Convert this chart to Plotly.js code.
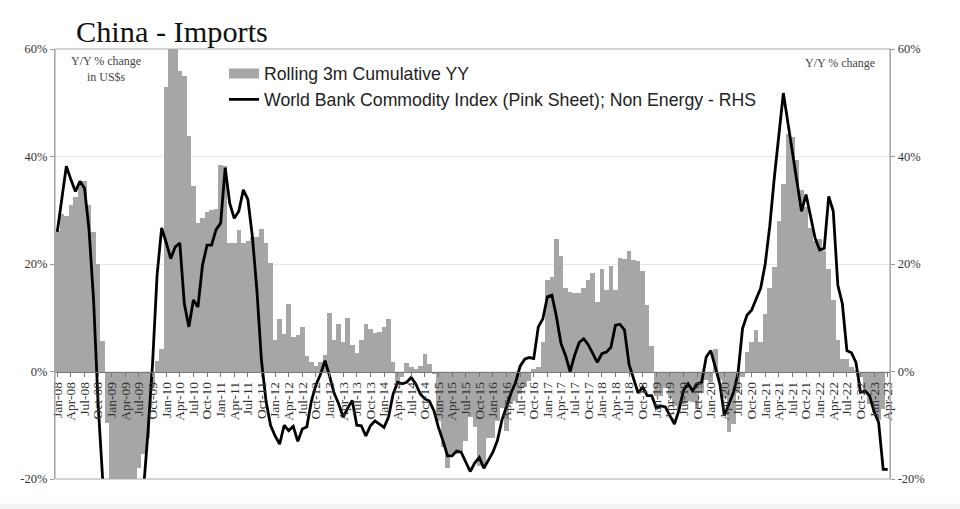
<!DOCTYPE html>
<html><head><meta charset="utf-8">
<script src="https://cdn.plot.ly/plotly-3.0.1.min.js"></script>
<style>html,body{margin:0;padding:0;background:#fff;}#chart{width:960px;height:509px;}</style>
</head><body><div id="chart"></div>
<script>
const startYear = 2008;
const monthNames = ['Jan','Feb','Mar','Apr','May','Jun','Jul','Aug','Sep','Oct','Nov','Dec'];

// Rolling 3m cumulative YY (China imports, %), monthly Jan-08 .. Apr-23
const imports3m = [
  26.2, 29.3, 29, 30.9, 32.5, 35, 35.5, 31, 26, 20, 5.6, -9.5,          // 2008
  -24, -26, -27, -26, -24, -22, -17.9, -15.4, -12.3, -3, 2, 4.2,        // 2009
  53, 63, 64, 56, 55, 43.9, 34.6, 27.7, 28.5, 29.6, 30.1, 30.3,         // 2010
  38.5, 38.2, 24, 23.9, 26.4, 23.9, 24.2, 25, 25.1, 26.6, 23.9, 20.2,   // 2011
  5.9, 9.7, 7, 12.6, 6.5, 6.7, 8.3, 2.8, 1.7, 1.1, 1.7, 3,              // 2012
  10.8, 5.9, 8.9, 5.5, 10, 4.9, 3.4, 5.9, 8.8, 8, 7.2, 7.4,             // 2013
  8.2, 9.7, 1.7, -2, -1, 1.6, 0.8, 0.5, 1.1, 3.3, 1.4, -0.5,            // 2014
  -9.2, -14.1, -17.9, -15.4, -15.4, -14.8, -12.9, -8.5, -10.4, -17.6, -18, -12.3, // 2015
  -12.3, -9.2, -6.7, -11, -6, -5.4, -4.2, -2.9, -1.7, 0.5, 0.8, 5.5,    // 2016
  17, 17.5, 24.6, 21.5, 15.6, 14.8, 14.6, 14.6, 15.5, 17.1, 18.4, 13,   // 2017
  19, 15.1, 19.6, 15.1, 21.1, 21, 22.5, 20.7, 20.5, 18.7, 12.3, 4.7,    // 2018
  -4.5, -4.5, -3, -5, -6.5, -7, -6, -5.5, -5.7, -7, -4, -1.5,           // 2019
  -2, 4.2, -1.5, -5, -11.3, -9.8, -4, -1, 3.6, 5.5, 7.8, 5.5,           // 2020
  10.7, 15.6, 19.4, 28, 34.8, 44.1, 43.6, 39.3, 33.7, 30.6, 26.7, 24.2, // 2021
  24.6, 22.5, 19, 13.3, 5.8, 2.4, 2.3, 0.9, 0.3, -1, -3.5, -6,          // 2022
  -7.5, -9, -7, null                                                     // 2023
];

// World Bank Commodity Index (Pink Sheet), Non Energy, Y/Y % (RHS)
const commodityNonEnergy = [
  26, 32, 38.2, 35.7, 33.5, 35.4, 34.1, 26.4, 13.3, -6, -20, -26,        // 2008
  -29, -31, -31, -30, -28, -26, -24, -22, -11.2, 1.5, 18, 26.7,          // 2009
  24, 21, 23.2, 23.9, 12.6, 8.3, 13.3, 12, 19.8, 23.5, 23.5, 26.4,       // 2010
  27.6, 37.9, 31.3, 28.5, 29.8, 33.8, 32, 25.1, 15, 2, -5.5, -10,        // 2011
  -12, -13.5, -10, -11, -10.2, -13, -10.7, -10.3, -5.5, -2.5, -0.5, 2,   // 2012
  -0.8, -4, -6, -8.5, -6.8, -5.4, -10, -10.1, -12, -10.1, -9.2, -9.8,    // 2013
  -10.4, -8.5, -4.2, -2, -2.3, -2, -1.1, -2.3, -4.2, -5.1, -5.5, -7.3,   // 2014
  -10.4, -12.9, -15.7, -15.7, -14.8, -15, -16.7, -18.6, -17, -16, -18, -16.5, // 2015
  -15, -12.8, -9, -6.5, -4, -2, 1, 2.3, 2.6, 2.4, 8.3, 9.8,              // 2016
  13.9, 14.2, 10.2, 5.2, 3, 0, 3, 5.4, 6.1, 5, 3.3, 1.7,                 // 2017
  3.3, 3.6, 4.5, 8.6, 8.8, 7.7, 1.3, -1.4, -4, -2.9, -4.5, -4.5,         // 2018
  -6.8, -6.4, -6.6, -8.2, -9.8, -7.2, -3.5, -2.3, -3.6, -2.3, -2, 2.7,   // 2019
  3.9, 0.8, -2.3, -8.2, -6, -3.9, -0.4, 8, 10.5, 11.4, 13.5, 15.5,       // 2020
  20, 27, 36, 44.5, 51.8, 46.3, 41, 35.1, 29.8, 32.9, 28.8, 24.8,        // 2021
  22.6, 22.9, 32.6, 29.8, 16.1, 12.6, 3.9, 3.5, 1.7, -3.9, -3.6, -4.5,   // 2022
  -7.5, -9.5, -18.2, -18.2                                               // 2023
];

const barName = 'Rolling 3m Cumulative YY';
const lineName = 'World Bank Commodity Index (Pink Sheet); Non Energy - RHS';

const idx = imports3m.map((_, i) => i);
const monthLabels = idx.map(i => monthNames[i % 12] + '-' + String((startYear + Math.floor(i / 12)) % 100).padStart(2, '0'));
const tickIdx = idx.filter(i => i % 3 === 0);
const tickText = tickIdx.map(i => monthLabels[i]);

const serif = 'Liberation Serif, Times New Roman, serif';
const sans = 'Liberation Sans, Arial, sans-serif';
const barColor = '#a6a6a6';

const traces = [
  // legend key only (wide grey swatch like the original legend)
  {
    type: 'scatter', mode: 'lines', x: [null], y: [null], name: barName,
    line: {color: barColor, width: 15}, hoverinfo: 'skip'
  },
  {
    type: 'bar', x: idx, y: imports3m, name: barName, showlegend: false,
    marker: {color: barColor, line: {width: 0}}, hoverinfo: 'skip'
  },
  {
    type: 'scatter', mode: 'lines', x: idx, y: commodityNonEnergy, yaxis: 'y2',
    name: lineName, line: {color: '#000000', width: 2.8}, hoverinfo: 'skip'
  }
];

const yTicks = [-20, 0, 20, 40, 60];
const yText = yTicks.map(v => v + '%');

const layout = {
  width: 960, height: 509,
  margin: {l: 55, r: 70, t: 49, b: 30, pad: 0},
  paper_bgcolor: '#ffffff', plot_bgcolor: '#ffffff',
  bargap: 0,
  showlegend: true,
  title: {
    text: 'China - Imports', font: {family: serif, size: 30.3, color: '#111'},
    xref: 'container', x: 76 / 960, xanchor: 'left',
    yref: 'container', y: 1 - 31 / 509, yanchor: 'middle'
  },
  legend: {
    x: 0.2024, y: 0.985, xanchor: 'left', yanchor: 'top',
    font: {family: sans, size: 17.7, color: '#222'},
    bgcolor: 'rgba(0,0,0,0)', borderwidth: 0, tracegroupgap: 0
  },
  xaxis: {
    range: [-0.5, 183.5], anchor: 'free', position: 0.25,
    tickvals: tickIdx, ticktext: tickText, tickangle: -90,
    tickfont: {family: serif, size: 13.5, color: '#333'},
    ticks: 'outside', ticklen: 4, tickcolor: '#777',
    showline: true, linecolor: '#777', linewidth: 1.2,
    showgrid: false, zeroline: false, fixedrange: true
  },
  yaxis: {
    range: [-20, 60], tickvals: yTicks, ticktext: yText,
    tickfont: {family: serif, size: 12.5, color: '#333'},
    ticks: 'outside', ticklen: 4, tickcolor: '#999',
    showline: true, linecolor: '#aaa', linewidth: 1.2,
    showgrid: true, gridcolor: '#e6e6e6', gridwidth: 1, zeroline: false
  },
  yaxis2: {
    range: [-20, 60], tickvals: yTicks, ticktext: yText, overlaying: 'y', side: 'right',
    tickfont: {family: serif, size: 12.5, color: '#333'},
    ticks: 'outside', ticklen: 4, tickcolor: '#999',
    showline: true, linecolor: '#aaa', linewidth: 1.2,
    showgrid: false, zeroline: false
  },
  shapes: [
    {type: 'rect', xref: 'paper', yref: 'paper', x0: 0, x1: 1, y0: 0, y1: 1,
     line: {color: '#aaa', width: 1.2}, fillcolor: 'rgba(0,0,0,0)', layer: 'above'},
    {type: 'rect', xref: 'paper', yref: 'paper', x0: -0.07, x1: 1.09, y0: -0.075, y1: -0.057,
     line: {width: 0}, fillcolor: '#f3f3f3', layer: 'below'}
  ],
  annotations: [
    {text: 'Y/Y % change<br>in US$s', xref: 'paper', yref: 'paper', x: 0.061, y: 0.993,
     xanchor: 'center', yanchor: 'top', showarrow: false,
     font: {family: serif, size: 12, color: '#444'}},
    {text: 'Y/Y % change', xref: 'paper', yref: 'paper', x: 0.94, y: 0.988,
     xanchor: 'center', yanchor: 'top', showarrow: false,
     font: {family: serif, size: 12, color: '#444'}}
  ]
};

Plotly.newPlot('chart', traces, layout, {displayModeBar: false, staticPlot: true});
</script>
</body></html>
